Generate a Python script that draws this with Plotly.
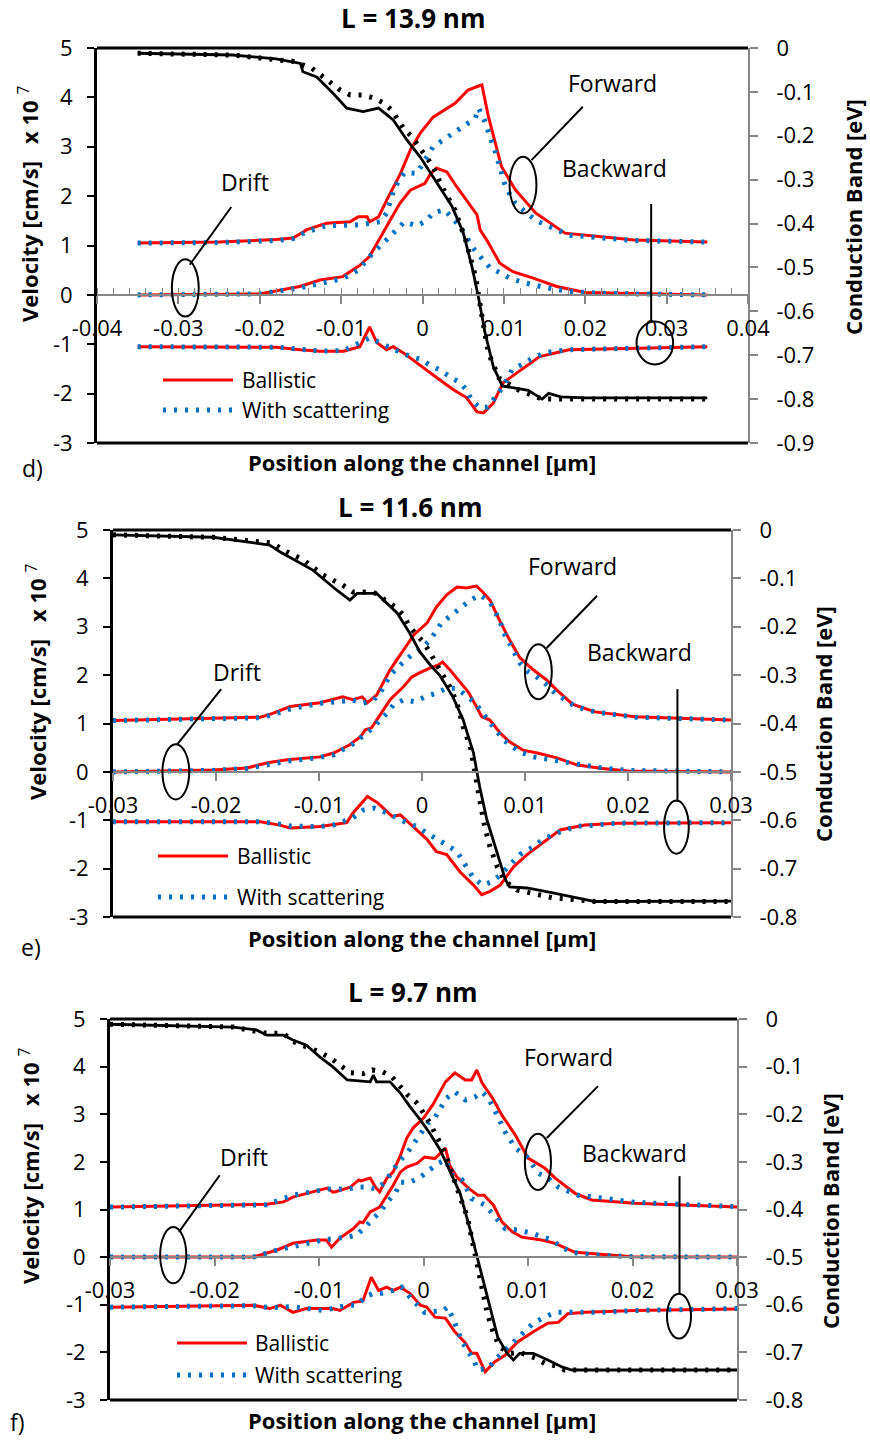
import plotly.graph_objects as go

# ---------------- data: panel d (L = 13.9 nm) ----------------
d_fwd_bal_x = [-0.035,-0.025,-0.018,-0.0159,-0.0142,-0.0118,-0.0089,-0.0079,-0.0068,-0.0065,-0.0054,-0.0044,-0.0027,-0.0015,-0.0003,0.0013,0.004,0.0056,0.0069,0.0073,0.0081,0.0097,0.0114,0.0139,0.0175,0.026,0.035]
d_fwd_bal = [1.05,1.07,1.12,1.15,1.32,1.45,1.48,1.58,1.58,1.48,1.58,1.92,2.46,2.93,3.27,3.6,3.88,4.15,4.23,4.25,3.61,2.6,2.13,1.66,1.25,1.11,1.07]
d_fwd_sct_x = [-0.035,-0.025,-0.018,-0.0159,-0.0142,-0.0118,-0.0077,-0.0052,-0.0044,-0.0036,-0.003,-0.0022,-0.0007,0.0013,0.004,0.0065,0.0069,0.0076,0.009,0.0102,0.0114,0.014,0.018,0.026,0.035]
d_fwd_sct = [1.05,1.06,1.1,1.14,1.28,1.4,1.42,1.48,1.66,2.09,2.29,2.48,2.46,3.0,3.3,3.58,3.78,3.54,2.87,2.19,1.85,1.5,1.21,1.1,1.07]
d_drift_bal_x = [-0.035,-0.02,-0.0151,-0.0126,-0.0098,-0.0077,-0.0065,-0.0044,-0.0028,-0.0015,-0.0006,0.0003,0.0009,0.0017,0.003,0.0042,0.0054,0.0067,0.0071,0.0079,0.0095,0.0111,0.0136,0.0165,0.02,0.035]
d_drift_bal = [0,0.02,0.17,0.3,0.37,0.6,0.78,1.38,1.85,2.12,2.19,2.26,2.43,2.57,2.49,2.19,1.92,1.62,1.31,1.11,0.64,0.47,0.34,0.17,0.05,0]
d_drift_sct_x = [-0.035,-0.02,-0.0151,-0.013,-0.0098,-0.0079,-0.0061,-0.0042,-0.0022,-0.0007,0.0005,0.0013,0.0027,0.0037,0.0046,0.0054,0.0064,0.0074,0.0083,0.0095,0.0107,0.0122,0.015,0.018,0.022,0.035]
d_drift_sct = [0,0.02,0.14,0.22,0.33,0.5,0.85,1.15,1.48,1.4,1.5,1.66,1.72,1.55,1.38,1.17,0.91,0.71,0.55,0.45,0.34,0.26,0.15,0.07,0.03,0]
d_back_bal_x = [-0.035,-0.018,-0.015,-0.0126,-0.0097,-0.0077,-0.0065,-0.0056,-0.0044,-0.0036,-0.0023,-0.0007,0.0005,0.0021,0.0038,0.0054,0.0067,0.0075,0.0087,0.0099,0.0116,0.0144,0.018,0.026,0.035]
d_back_bal = [-1.05,-1.06,-1.11,-1.14,-1.14,-1.05,-0.65,-0.97,-1.11,-1.05,-1.18,-1.38,-1.52,-1.72,-1.92,-2.08,-2.37,-2.39,-2.19,-1.78,-1.58,-1.25,-1.11,-1.08,-1.05]
d_back_sct_x = [-0.035,-0.018,-0.015,-0.0126,-0.0097,-0.0077,-0.0065,-0.0052,-0.004,-0.0015,-0.0003,0.0009,0.0021,0.0034,0.0046,0.0054,0.006,0.0071,0.008,0.0089,0.0099,0.011,0.0124,0.0136,0.015,0.018,0.026,0.035]
d_back_sct = [-1.05,-1.06,-1.1,-1.14,-1.13,-0.97,-0.87,-0.97,-1.07,-1.25,-1.3,-1.42,-1.52,-1.66,-1.78,-1.92,-2.13,-2.29,-2.27,-2.08,-1.86,-1.52,-1.38,-1.28,-1.17,-1.11,-1.08,-1.05]
d_cb_bal_x = [-0.035,-0.0233,-0.018,-0.015,-0.0147,-0.013,-0.011,-0.0093,-0.0073,-0.0054,-0.0036,-0.0019,-0.0003,0.0015,0.0036,0.005,0.0061,0.0069,0.0077,0.0087,0.0098,0.0114,0.013,0.0147,0.0155,0.017,0.02,0.035]
d_cb_bal = [-0.012,-0.016,-0.025,-0.035,-0.054,-0.066,-0.103,-0.137,-0.145,-0.137,-0.164,-0.21,-0.248,-0.3,-0.36,-0.42,-0.5,-0.57,-0.65,-0.726,-0.77,-0.775,-0.78,-0.8,-0.787,-0.795,-0.797,-0.797]
d_cb_sct_x = [-0.035,-0.0233,-0.0179,-0.016,-0.0136,-0.0113,-0.0101,-0.0089,-0.0073,-0.006,-0.0048,-0.0038,-0.003,-0.0022,-0.0014,-0.0004,0.0005,0.0013,0.0024,0.004,0.0053,0.0065,0.0073,0.0081,0.0094,0.0118,0.0147,0.035]
d_cb_sct = [-0.012,-0.016,-0.027,-0.03,-0.046,-0.077,-0.096,-0.107,-0.107,-0.114,-0.125,-0.141,-0.164,-0.187,-0.2,-0.225,-0.25,-0.27,-0.316,-0.37,-0.437,-0.52,-0.61,-0.695,-0.752,-0.779,-0.8,-0.8]

# ---------------- data: panel e (L = 11.6 nm) ----------------
e_fwd_bal_x = [-0.03,-0.0157,-0.0145,-0.0128,-0.0099,-0.0077,-0.0067,-0.0058,-0.0053,-0.0044,-0.0031,-0.0018,-0.0008,0.0005,0.0014,0.0024,0.0034,0.0043,0.0053,0.0059,0.0066,0.0076,0.0085,0.0095,0.0108,0.0121,0.0131,0.0146,0.0168,0.0207,0.03]
e_fwd_bal = [1.06,1.13,1.21,1.35,1.43,1.55,1.49,1.55,1.43,1.59,2.11,2.52,2.83,3.08,3.41,3.66,3.82,3.8,3.84,3.72,3.55,3.1,2.73,2.36,2.11,1.9,1.69,1.4,1.24,1.14,1.07]
e_fwd_sct_x = [-0.03,-0.0157,-0.0145,-0.0128,-0.0099,-0.0067,-0.0057,-0.0047,-0.0039,-0.0031,-0.0019,-0.001,0.0,0.0008,0.0019,0.0029,0.0039,0.0047,0.0056,0.0066,0.0071,0.0076,0.0079,0.0084,0.0089,0.0095,0.0103,0.0113,0.0121,0.0129,0.0149,0.0168,0.0207,0.03]
e_fwd_sct = [1.06,1.12,1.18,1.3,1.42,1.48,1.42,1.48,1.69,2.0,2.25,2.42,2.56,2.73,3.08,3.24,3.41,3.55,3.66,3.51,3.31,3.1,2.89,2.69,2.46,2.25,2.07,1.94,1.8,1.63,1.35,1.24,1.13,1.07]
e_drift_bal_x = [-0.03,-0.0203,-0.017,-0.015,-0.0131,-0.0099,-0.0086,-0.007,-0.006,-0.0055,-0.0049,-0.0041,-0.0031,-0.0018,-0.001,-0.0002,0.0008,0.0016,0.002,0.0027,0.0037,0.0045,0.0053,0.0058,0.0066,0.0076,0.0085,0.0098,0.0112,0.0131,0.0151,0.0175,0.02,0.03]
e_drift_bal = [0,0.04,0.08,0.19,0.25,0.31,0.39,0.56,0.72,0.87,0.91,1.18,1.49,1.76,1.96,2.05,2.15,2.21,2.27,2.11,1.86,1.65,1.34,1.14,1.07,0.8,0.62,0.45,0.39,0.29,0.14,0.07,0.02,0]
e_drift_sct_x = [-0.03,-0.0203,-0.017,-0.015,-0.0131,-0.0102,-0.0086,-0.0077,-0.0067,-0.005,-0.0034,-0.0028,-0.0018,-0.0007,0.0003,0.0014,0.0024,0.0034,0.0043,0.0052,0.0059,0.0066,0.0073,0.0079,0.0087,0.0095,0.0108,0.0142,0.0175,0.02,0.03]
e_drift_sct = [0,0.03,0.07,0.15,0.22,0.29,0.35,0.46,0.58,0.87,1.21,1.38,1.49,1.45,1.55,1.63,1.73,1.73,1.59,1.42,1.21,1.0,0.83,0.66,0.52,0.41,0.31,0.19,0.08,0.03,0]
e_back_bal_x = [-0.03,-0.0157,-0.0138,-0.0128,-0.0099,-0.0073,-0.0067,-0.0053,-0.0043,-0.0029,-0.0021,-0.0009,0.0005,0.0014,0.0024,0.0037,0.005,0.0058,0.0066,0.0076,0.0089,0.0102,0.0121,0.0134,0.0158,0.019,0.03]
e_back_bal = [-1.03,-1.03,-1.1,-1.16,-1.13,-1.05,-0.85,-0.51,-0.64,-0.92,-0.89,-1.13,-1.4,-1.65,-1.71,-2.07,-2.34,-2.54,-2.47,-2.34,-1.96,-1.71,-1.4,-1.2,-1.1,-1.06,-1.05]
e_back_sct_x = [-0.03,-0.0157,-0.0138,-0.0128,-0.0099,-0.0086,-0.0067,-0.0057,-0.0046,-0.0034,-0.0017,-0.0005,0.0005,0.0014,0.0024,0.0034,0.004,0.005,0.0059,0.0068,0.0076,0.0085,0.0095,0.0108,0.0117,0.0127,0.0149,0.0168,0.019,0.03]
e_back_sct = [-1.03,-1.03,-1.08,-1.12,-1.13,-1.1,-0.95,-0.79,-0.75,-0.85,-1.03,-1.13,-1.27,-1.37,-1.51,-1.65,-1.86,-2.2,-2.34,-2.27,-2.13,-1.92,-1.71,-1.55,-1.4,-1.3,-1.13,-1.1,-1.06,-1.05]
e_cb_bal_x = [-0.03,-0.0203,-0.0148,-0.0138,-0.0106,-0.0083,-0.007,-0.0063,-0.0044,-0.0024,-0.0012,-0.0002,0.0008,0.0017,0.003,0.004,0.005,0.0056,0.0063,0.0073,0.0081,0.0085,0.0102,0.0127,0.0168,0.03]
e_cb_bal = [-0.01,-0.015,-0.031,-0.045,-0.083,-0.124,-0.145,-0.131,-0.131,-0.172,-0.213,-0.252,-0.279,-0.3,-0.345,-0.393,-0.461,-0.531,-0.599,-0.667,-0.723,-0.738,-0.74,-0.75,-0.768,-0.767]
e_cb_sct_x = [-0.03,-0.0203,-0.0145,-0.0135,-0.0115,-0.0096,-0.0077,-0.0067,-0.0057,-0.0044,-0.0036,-0.0026,-0.0018,-0.0012,-0.0005,0.0001,0.0008,0.0013,0.0019,0.0025,0.003,0.0035,0.004,0.0047,0.0051,0.0056,0.0061,0.0066,0.0073,0.0081,0.0092,0.0126,0.0168,0.03]
e_cb_sct = [-0.01,-0.015,-0.027,-0.041,-0.062,-0.093,-0.114,-0.128,-0.128,-0.131,-0.145,-0.159,-0.176,-0.2,-0.217,-0.231,-0.254,-0.275,-0.296,-0.316,-0.337,-0.366,-0.407,-0.448,-0.502,-0.558,-0.614,-0.655,-0.696,-0.727,-0.744,-0.76,-0.768,-0.768]

# ---------------- data: panel f (L = 9.7 nm) ----------------
f_fwd_bal_x = [-0.03,-0.015,-0.0134,-0.0125,-0.0106,-0.0092,-0.0087,-0.0085,-0.007,-0.0062,-0.006,-0.0051,-0.0046,-0.0042,-0.0035,-0.0029,-0.0022,-0.0016,-0.001,0.0,0.0009,0.0021,0.003,0.004,0.0046,0.0051,0.0056,0.0066,0.0075,0.0088,0.01,0.0116,0.0126,0.0145,0.0161,0.0202,0.03]
f_fwd_bal = [1.05,1.11,1.16,1.26,1.37,1.45,1.37,1.37,1.47,1.62,1.6,1.66,1.47,1.37,1.66,1.79,2.14,2.5,2.71,2.92,3.2,3.68,3.87,3.72,3.72,3.93,3.66,3.34,2.98,2.56,2.08,1.87,1.66,1.34,1.2,1.13,1.05]
f_fwd_sct_x = [-0.03,-0.015,-0.0125,-0.0106,-0.0092,-0.0073,-0.0062,-0.0053,-0.0045,-0.0037,-0.003,-0.0024,-0.0016,-0.001,-0.0003,0.0004,0.0011,0.0022,0.003,0.004,0.0049,0.0056,0.0062,0.0068,0.0078,0.0088,0.0099,0.011,0.0119,0.0129,0.0148,0.0171,0.0202,0.03]
f_fwd_sct = [1.05,1.1,1.3,1.37,1.43,1.43,1.47,1.47,1.43,1.57,1.79,1.99,2.18,2.35,2.58,2.81,2.93,3.34,3.47,3.3,3.36,3.47,3.34,3.09,2.63,2.29,2.1,1.76,1.66,1.47,1.3,1.24,1.15,1.06]
f_drift_bal_x = [-0.03,-0.0163,-0.014,-0.0125,-0.0102,-0.0093,-0.0088,-0.008,-0.0067,-0.0061,-0.0058,-0.0051,-0.0042,-0.0035,-0.0029,-0.0022,-0.0016,-0.0006,0.0001,0.0011,0.0021,0.0025,0.0032,0.0043,0.0052,0.0058,0.0067,0.0075,0.0085,0.0094,0.0113,0.0126,0.0145,0.02,0.03]
f_drift_bal = [0,0,0.15,0.29,0.36,0.36,0.21,0.4,0.6,0.74,0.72,0.95,1.05,1.3,1.51,1.79,1.89,1.97,2.1,2.07,2.29,1.93,1.68,1.45,1.3,1.3,1.09,0.74,0.53,0.42,0.36,0.29,0.1,0.01,0]
f_drift_sct_x = [-0.03,-0.0163,-0.014,-0.0126,-0.0112,-0.0096,-0.0073,-0.0064,-0.0056,-0.0048,-0.004,-0.0035,-0.0027,-0.0022,-0.0013,-0.0003,0.0006,0.0014,0.0021,0.0023,0.0028,0.0037,0.0046,0.0059,0.0067,0.0078,0.009,0.0104,0.0123,0.0132,0.0142,0.016,0.02,0.03]
f_drift_sct = [0,0,0.15,0.22,0.29,0.36,0.42,0.46,0.63,0.81,0.99,1.15,1.34,1.57,1.57,1.68,1.83,1.97,2.04,1.93,1.72,1.62,1.23,1.09,0.88,0.6,0.57,0.5,0.36,0.21,0.1,0.05,0.01,0]
f_back_bal_x = [-0.03,-0.0163,-0.0147,-0.0137,-0.0125,-0.0112,-0.0087,-0.008,-0.0067,-0.0058,-0.005,-0.0043,-0.0035,-0.0029,-0.0022,-0.0013,-0.0003,0.0003,0.0011,0.0021,0.003,0.004,0.0046,0.0051,0.0059,0.0068,0.0078,0.009,0.0107,0.0119,0.0129,0.0138,0.0155,0.0202,0.03]
f_back_bal = [-1.05,-1.01,-1.08,-1.01,-1.16,-1.08,-1.08,-1.12,-0.95,-0.92,-0.42,-0.7,-0.63,-0.7,-0.63,-0.76,-1.01,-1.05,-1.26,-1.28,-1.57,-1.8,-2.02,-2.02,-2.41,-2.2,-2.06,-1.78,-1.54,-1.39,-1.37,-1.19,-1.16,-1.12,-1.09]
f_back_sct_x = [-0.03,-0.0163,-0.0147,-0.0125,-0.0096,-0.0073,-0.0064,-0.0056,-0.0048,-0.004,-0.0029,-0.0021,-0.0013,-0.0006,0.0001,0.0019,0.0023,0.0028,0.0032,0.0037,0.0043,0.0048,0.0052,0.0062,0.0071,0.0083,0.0094,0.0105,0.0116,0.0126,0.0171,0.0202,0.03]
f_back_sct = [-1.05,-1.02,-1.06,-1.04,-1.12,-1.01,-1.01,-0.84,-0.76,-0.76,-0.7,-0.63,-0.84,-1.01,-1.16,-1.12,-1.05,-1.28,-1.53,-1.78,-1.99,-2.16,-2.37,-2.33,-2.1,-1.85,-1.64,-1.39,-1.26,-1.16,-1.16,-1.12,-1.08]
f_cb_bal_x = [-0.03,-0.0182,-0.016,-0.015,-0.0134,-0.0125,-0.0112,-0.0099,-0.0087,-0.0073,-0.0051,-0.0048,-0.0045,-0.0032,-0.0022,-0.0013,-0.0003,0.0006,0.0016,0.0025,0.0035,0.0044,0.0054,0.0064,0.0071,0.008,0.0086,0.0092,0.0105,0.0119,0.0133,0.0142,0.03]
f_cb_bal = [-0.011,-0.017,-0.023,-0.034,-0.034,-0.044,-0.055,-0.08,-0.1,-0.128,-0.132,-0.118,-0.132,-0.132,-0.156,-0.184,-0.212,-0.24,-0.275,-0.317,-0.366,-0.437,-0.521,-0.605,-0.668,-0.702,-0.716,-0.702,-0.702,-0.716,-0.731,-0.737,-0.737]
f_cb_sct_x = [-0.03,-0.0182,-0.016,-0.015,-0.0134,-0.0125,-0.0099,-0.0089,-0.007,-0.0058,-0.0049,-0.0039,-0.003,-0.0022,-0.0015,-0.0006,0.0,0.0006,0.0011,0.0018,0.0023,0.0028,0.0035,0.0042,0.0046,0.0051,0.0056,0.0061,0.0067,0.0073,0.0083,0.0092,0.0107,0.0116,0.0129,0.0135,0.03]
f_cb_sct = [-0.011,-0.017,-0.026,-0.03,-0.03,-0.047,-0.07,-0.082,-0.113,-0.115,-0.107,-0.111,-0.122,-0.143,-0.16,-0.177,-0.197,-0.218,-0.24,-0.269,-0.296,-0.332,-0.374,-0.416,-0.458,-0.513,-0.569,-0.618,-0.66,-0.689,-0.702,-0.7,-0.712,-0.723,-0.73,-0.737,-0.737]

# ---------------- ticks / labels ----------------
vel_ticks = [-3, -2, -1, 0, 1, 2, 3, 4, 5]
vel_ticklabels = ["-3", "-2", "-1", "0", "1", "2", "3", "4", "5"]
d_xticks = [-0.04, -0.03, -0.02, -0.01, 0, 0.01, 0.02, 0.03, 0.04]
d_xticklabels = ["-0.04", "-0.03", "-0.02", "-0.01", "0", "0.01", "0.02", "0.03", "0.04"]
ef_xticks = [-0.03, -0.02, -0.01, 0, 0.01, 0.02, 0.03]
ef_xticklabels = ["-0.03", "-0.02", "-0.01", "0", "0.01", "0.02", "0.03"]
d_cbticks = [0, -0.1, -0.2, -0.3, -0.4, -0.5, -0.6, -0.7, -0.8, -0.9]
d_cbticklabels = ["0", "-0.1", "-0.2", "-0.3", "-0.4", "-0.5", "-0.6", "-0.7", "-0.8", "-0.9"]
ef_cbticks = [0, -0.1, -0.2, -0.3, -0.4, -0.5, -0.6, -0.7, -0.8]
ef_cbticklabels = ["0", "-0.1", "-0.2", "-0.3", "-0.4", "-0.5", "-0.6", "-0.7", "-0.8"]
titles = ["L = 13.9 nm", "L = 11.6 nm", "L = 9.7 nm"]
panel_letters = ["d)", "e)", "f)"]
legend_names = ["Ballistic", "With scattering"]

# ---------------- styling ----------------
W, H = 870, 1444
FONT = "Open Sans"
RED = "#FF0000"
BLUE = "#0070C0"
BLACK = "#000000"
GRAY = "#868686"
DOT = "3px,8px"
VEL_RANGE = [-3, 5]
TICK_SIZE = 22


def px(X):
    return X / W


def py(Y):
    return 1 - Y / H


panels = [
    dict(box=(97, 48, 748, 443), xr=[-0.04, 0.04], cbr=[-0.9, 0],
         xt=d_xticks, xtl=d_xticklabels, cbt=d_cbticks, cbtl=d_cbticklabels, minor=True,
         fwd=(d_fwd_bal_x, d_fwd_bal, d_fwd_sct_x, d_fwd_sct),
         drift=(d_drift_bal_x, d_drift_bal, d_drift_sct_x, d_drift_sct),
         back=(d_back_bal_x, d_back_bal, d_back_sct_x, d_back_sct),
         cb=(d_cb_bal_x, d_cb_bal, d_cb_sct_x, d_cb_sct),
         title_xy=(413, 18), xt_y=462, letter_xy=(32, 468),
         ytitle_xy=(29, 204), cbtitle_xy=(853, 217),
         leg=(163, 233, 380, 410, 240),
         fwd_txt=(0.0234, 4.29), fwd_line=(0.0197, 3.81, 0.0134, 2.73), fwd_ell=(0.0107, 1.65, 0.014, 2.8),
         back_txt=(0.0236, 2.57), back_line=(0.0281, 1.84, 0.0281, -0.51), back_ell=(0.0263, -1.41, 0.0308, -0.54),
         drift_txt=(-0.0218, 2.29), drift_line=(-0.0235, 1.78, -0.0286, 0.61), drift_ell=(-0.0308, -0.44, -0.0275, 0.72)),
    dict(box=(113, 530, 731, 917), xr=[-0.03, 0.03], cbr=[-0.8, 0],
         xt=ef_xticks, xtl=ef_xticklabels, cbt=ef_cbticks, cbtl=ef_cbticklabels, minor=False,
         fwd=(e_fwd_bal_x, e_fwd_bal, e_fwd_sct_x, e_fwd_sct),
         drift=(e_drift_bal_x, e_drift_bal, e_drift_sct_x, e_drift_sct),
         back=(e_back_bal_x, e_back_bal, e_back_sct_x, e_back_sct),
         cb=(e_cb_bal_x, e_cb_bal, e_cb_sct_x, e_cb_sct),
         title_xy=(410, 507), xt_y=938, letter_xy=(31, 947),
         ytitle_xy=(36, 682), cbtitle_xy=(823, 724),
         leg=(158, 228, 856, 897, 235),
         fwd_txt=(0.0146, 4.26), fwd_line=(0.017, 3.64, 0.0121, 2.56), fwd_ell=(0.01, 1.5, 0.0126, 2.64),
         back_txt=(0.0211, 2.48), back_line=(0.0248, 1.71, 0.0248, -0.62), back_ell=(0.0235, -1.69, 0.0259, -0.59),
         drift_txt=(-0.018, 2.07), drift_line=(-0.0195, 1.71, -0.0238, 0.56), drift_ell=(-0.0252, -0.57, -0.0226, 0.57)),
    dict(box=(110, 1019, 737, 1400), xr=[-0.03, 0.03], cbr=[-0.8, 0],
         xt=ef_xticks, xtl=ef_xticklabels, cbt=ef_cbticks, cbtl=ef_cbticklabels, minor=False,
         fwd=(f_fwd_bal_x, f_fwd_bal, f_fwd_sct_x, f_fwd_sct),
         drift=(f_drift_bal_x, f_drift_bal, f_drift_sct_x, f_drift_sct),
         back=(f_back_bal_x, f_back_bal, f_back_sct_x, f_back_sct),
         cb=(f_cb_bal_x, f_cb_bal, f_cb_sct_x, f_cb_sct),
         title_xy=(413, 992), xt_y=1420, letter_xy=(17, 1422),
         ytitle_xy=(29, 1166), cbtitle_xy=(830, 1211),
         leg=(177, 247, 1343, 1375, 253),
         fwd_txt=(0.0139, 4.2), fwd_line=(0.0167, 3.59, 0.0118, 2.5), fwd_ell=(0.0097, 1.41, 0.0122, 2.59),
         back_txt=(0.0202, 2.18), back_line=(0.0245, 1.7, 0.0245, -0.76), back_ell=(0.0233, -1.71, 0.0256, -0.77),
         drift_txt=(-0.0172, 2.1), drift_line=(-0.0195, 1.72, -0.0234, 0.53), drift_ell=(-0.0252, -0.55, -0.0227, 0.63)),
]

fig = go.Figure()
layout = {}
shapes = []
annotations = []

for i, p in enumerate(panels):
    xa = "x" if i == 0 else f"x{i + 1}"
    ya = "y" if i == 0 else f"y{2 * i + 1}"
    yb = f"y{2 * i + 2}"
    xkey = "xaxis" if i == 0 else f"xaxis{i + 1}"
    yakey = "yaxis" if i == 0 else f"yaxis{2 * i + 1}"
    ybkey = f"yaxis{2 * i + 2}"
    X0, Y0, X1, Y1 = p["box"]
    dom_x = [px(X0), px(X1)]
    dom_y = [py(Y1), py(Y0)]
    zero_pos = dom_y[0] + (dom_y[1] - dom_y[0]) * (0 - VEL_RANGE[0]) / (VEL_RANGE[1] - VEL_RANGE[0])

    xax = dict(domain=dom_x, range=p["xr"], anchor="free", position=zero_pos, side="bottom",
               automargin=False,
               showline=True, linecolor=GRAY, linewidth=1.5, showgrid=False, zeroline=False,
               ticks="outside", ticklen=8, tickwidth=1.5, tickcolor=GRAY,
               tickmode="array", tickvals=p["xt"], ticktext=p["xtl"], ticklabelstandoff=6,
               tickfont=dict(family=FONT, size=TICK_SIZE, color=BLACK))
    if p["minor"]:
        xax["minor"] = dict(ticks="inside", dtick=0.002, tick0=0, ticklen=6, tickwidth=1.2, tickcolor=GRAY)
    layout[xkey] = xax
    layout[yakey] = dict(domain=dom_y, range=VEL_RANGE, anchor=xa, side="left", automargin=False,
                         showline=True, linecolor=BLACK, linewidth=3, showgrid=False, zeroline=False,
                         ticks="outside", ticklen=7, tickwidth=1.5, tickcolor=BLACK,
                         tickmode="array", tickvals=vel_ticks, ticktext=vel_ticklabels, ticklabelstandoff=10,
                         tickfont=dict(family=FONT, size=TICK_SIZE, color=BLACK))
    layout[ybkey] = dict(range=p["cbr"], overlaying=ya, anchor=xa, side="right", automargin=False,
                         showline=True, linecolor=GRAY, linewidth=2, showgrid=False, zeroline=False,
                         ticks="outside", ticklen=8, tickwidth=1.5, tickcolor=GRAY,
                         tickmode="array", tickvals=p["cbt"], ticktext=p["cbtl"], ticklabelstandoff=14,
                         tickfont=dict(family=FONT, size=TICK_SIZE, color=BLACK))

    # velocity curves
    for key in ("fwd", "drift", "back"):
        bx, by, sx, sy = p[key]
        fig.add_trace(go.Scatter(x=bx, y=by, mode="lines", xaxis=xa, yaxis=ya,
                                 line=dict(color=RED, width=3), name=legend_names[0], showlegend=False))
    for key in ("fwd", "drift", "back"):
        bx, by, sx, sy = p[key]
        fig.add_trace(go.Scatter(x=sx, y=sy, mode="lines", xaxis=xa, yaxis=ya,
                                 line=dict(color=BLUE, width=5, dash=DOT), name=legend_names[1], showlegend=False))
    # conduction band
    bx, by, sx, sy = p["cb"]
    fig.add_trace(go.Scatter(x=bx, y=by, mode="lines", xaxis=xa, yaxis=yb,
                             line=dict(color=BLACK, width=2.8), showlegend=False))
    fig.add_trace(go.Scatter(x=sx, y=sy, mode="lines", xaxis=xa, yaxis=yb,
                             line=dict(color=BLACK, width=5, dash=DOT), showlegend=False))

    # frame top / bottom
    for yy in (0, 1):
        shapes.append(dict(type="line", xref=f"{xa} domain", yref=f"{ya} domain",
                           x0=0, x1=1, y0=yy, y1=yy, line=dict(color=BLACK, width=3)))

    # callouts
    for nm, tk, lk, ek in (("Forward", "fwd_txt", "fwd_line", "fwd_ell"),
                           ("Backward", "back_txt", "back_line", "back_ell"),
                           ("Drift", "drift_txt", "drift_line", "drift_ell")):
        tx, tyv = p[tk]
        annotations.append(dict(x=tx, y=tyv, xref=xa, yref=ya, text=nm, showarrow=False,
                                xanchor="center", yanchor="middle",
                                font=dict(family=FONT, size=23, color=BLACK)))
        lx0, ly0, lx1, ly1 = p[lk]
        shapes.append(dict(type="line", xref=xa, yref=ya, x0=lx0, y0=ly0, x1=lx1, y1=ly1,
                           line=dict(color=BLACK, width=2)))
        ex0, ey0, ex1, ey1 = p[ek]
        shapes.append(dict(type="circle", xref=xa, yref=ya, x0=ex0, y0=ey0, x1=ex1, y1=ey1,
                           line=dict(color=BLACK, width=2)))

    # legend (drawn)
    lx0, lx1, ly_b, ly_s, ltx = p["leg"]
    shapes.append(dict(type="line", xref="paper", yref="paper", x0=px(lx0), x1=px(lx1),
                       y0=py(ly_b), y1=py(ly_b), line=dict(color=RED, width=3)))
    shapes.append(dict(type="line", xref="paper", yref="paper", x0=px(lx0), x1=px(lx1),
                       y0=py(ly_s), y1=py(ly_s), line=dict(color=BLUE, width=5, dash=DOT)))
    for nm, yy in zip(legend_names, (ly_b, ly_s)):
        annotations.append(dict(x=px(ltx), y=py(yy), xref="paper", yref="paper", text=nm,
                                showarrow=False, xanchor="left", yanchor="middle",
                                font=dict(family=FONT, size=21, color=BLACK)))

    # titles and labels
    annotations.append(dict(x=px(p["title_xy"][0]), y=py(p["title_xy"][1]), xref="paper", yref="paper",
                            text=f"<b>{titles[i]}</b>", showarrow=False, xanchor="center", yanchor="middle",
                            font=dict(family=FONT, size=26, color=BLACK)))
    annotations.append(dict(x=px(422), y=py(p["xt_y"]), xref="paper", yref="paper",
                            text="<b>Position along the channel [μm]</b>", showarrow=False,
                            xanchor="center", yanchor="middle", font=dict(family=FONT, size=22, color=BLACK)))
    annotations.append(dict(x=px(p["letter_xy"][0]), y=py(p["letter_xy"][1]), xref="paper", yref="paper",
                            text=panel_letters[i], showarrow=False, xanchor="center", yanchor="middle",
                            font=dict(family=FONT, size=23, color=BLACK)))
    annotations.append(dict(x=px(p["ytitle_xy"][0]), y=py(p["ytitle_xy"][1]), xref="paper", yref="paper",
                            text="<b>Velocity [cm/s]   x 10</b> <sup>7</sup>", textangle=-90, showarrow=False,
                            xanchor="center", yanchor="middle", font=dict(family=FONT, size=22, color=BLACK)))
    annotations.append(dict(x=px(p["cbtitle_xy"][0]), y=py(p["cbtitle_xy"][1]), xref="paper", yref="paper",
                            text="<b>Conduction Band [eV]</b>", textangle=-90, showarrow=False,
                            xanchor="center", yanchor="middle", font=dict(family=FONT, size=22, color=BLACK)))

fig.update_layout(width=W, height=H, margin=dict(l=0, r=0, t=0, b=0, pad=0, autoexpand=False),
                  paper_bgcolor="white", plot_bgcolor="white", showlegend=False,
                  font=dict(family=FONT, color=BLACK), shapes=shapes, annotations=annotations,
                  **layout)

fig.write_html("out.html", config={"displayModeBar": False},
               post_script="document.body.style.margin='0px';")
